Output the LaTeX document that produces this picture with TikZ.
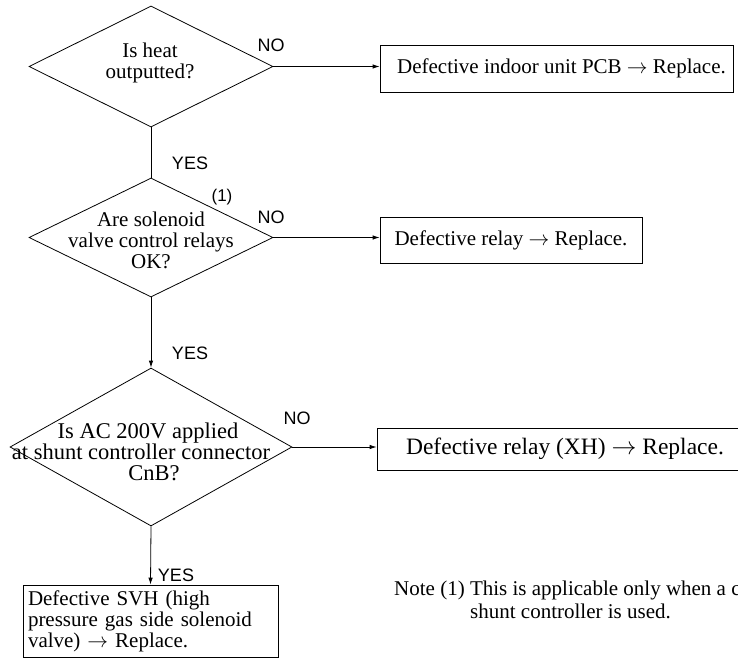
\documentclass[tikz,border=0pt]{standalone}
\usepackage{fontspec}
\setmainfont{Liberation Serif}
\setsansfont{Liberation Sans}
\usepackage{tikz}
\usetikzlibrary{arrows.meta, positioning, shapes.geometric}

\tikzset{
  dia/.style={draw, diamond, line width=0.8pt, inner sep=0pt},
  qtxt/.style={align=center, font=\fontsize{21}{21}\selectfont, inner sep=0pt},
  box/.style={draw, rectangle, line width=0.8pt, align=center, font=\fontsize{21}{21}\selectfont},
  yn/.style={font=\sffamily\fontsize{18}{18}\selectfont, inner sep=0pt},
  flow/.style={line width=0.8pt, -{Latex[length=7pt, width=4.5pt]}},
}

\begin{document}
\begin{tikzpicture}[x=1pt, y=-1pt]
  \clip (0,0) rectangle (738,664);
  % Decision 1
  \node[dia, minimum width=244, minimum height=121] (q1) at (151,66.5) {};
  \node[qtxt] (q1t) at (150,63) {Is heat\\outputted?};
  \node[box, minimum width=353, minimum height=47] (b1) at (556.5,68.5) {\hspace*{10pt}Defective indoor unit PCB $\rightarrow$ Replace.};
  \node[yn] (no1) at (271,45) {NO};
  \node[yn] (yes1) at (190,163) {YES};
  % Decision 2
  \node[dia, minimum width=244, minimum height=119] (q2) at (151,237.5) {};
  \node[qtxt] (q2t) at (151,240) {Are solenoid\\valve control relays\\OK?};
  \node[yn, font=\sffamily\fontsize{17}{17}\selectfont] (note1) at (222,197) {(1)};
  \node[box, minimum width=262, minimum height=46] (b2) at (511,240) {Defective relay $\rightarrow$ Replace.};
  \node[yn] (no2) at (271,217) {NO};
  \node[yn] (yes2) at (190,353) {YES};
  % Decision 3
  \node[dia, minimum width=282, minimum height=158] (q3) at (151,447) {};
  \node[qtxt, font=\fontsize{22.5}{21}\selectfont] (q3t) at (148,452)
    {Is AC 200V applied\\\hspace*{-14pt}at shunt controller connector\\\hspace*{12pt}CnB?};
  \node[box, minimum width=376, minimum height=42, font=\fontsize{23.5}{23.5}\selectfont] (b3) at (565,449) {Defective relay (XH) $\rightarrow$ Replace.};
  \node[yn] (no3) at (297,418) {NO};
  \node[yn] (yes3) at (176,575) {YES};
  % End box
  \node[box, align=left, text width=245, inner sep=5pt, minimum height=72] (b4) at (150.5,621)
    {Defective SVH (high\\pressure gas side solenoid\\valve) $\rightarrow$ Replace.};
  % Note
  \node[align=left, anchor=west, font=\fontsize{21}{23}\selectfont, inner sep=0pt] (note) at (394,600)
    {Note (1) This is applicable only when a c\\\hspace*{76pt}shunt controller is used.};
  % Connectors
  \draw[flow] (q1.east) -- (q1.east -| b1.west);
  \draw[line width=0.8pt] (q1.south) -- (q2.north);
  \draw[flow] (q2.east) -- (q2.east -| b2.west);
  \draw[flow] (q2.south) -- (q3.north);
  \draw[flow] (q3.east) -- (q3.east -| b3.west);
  \draw[flow] (q3.south) -- (b4.north);
\end{tikzpicture}
\end{document}
